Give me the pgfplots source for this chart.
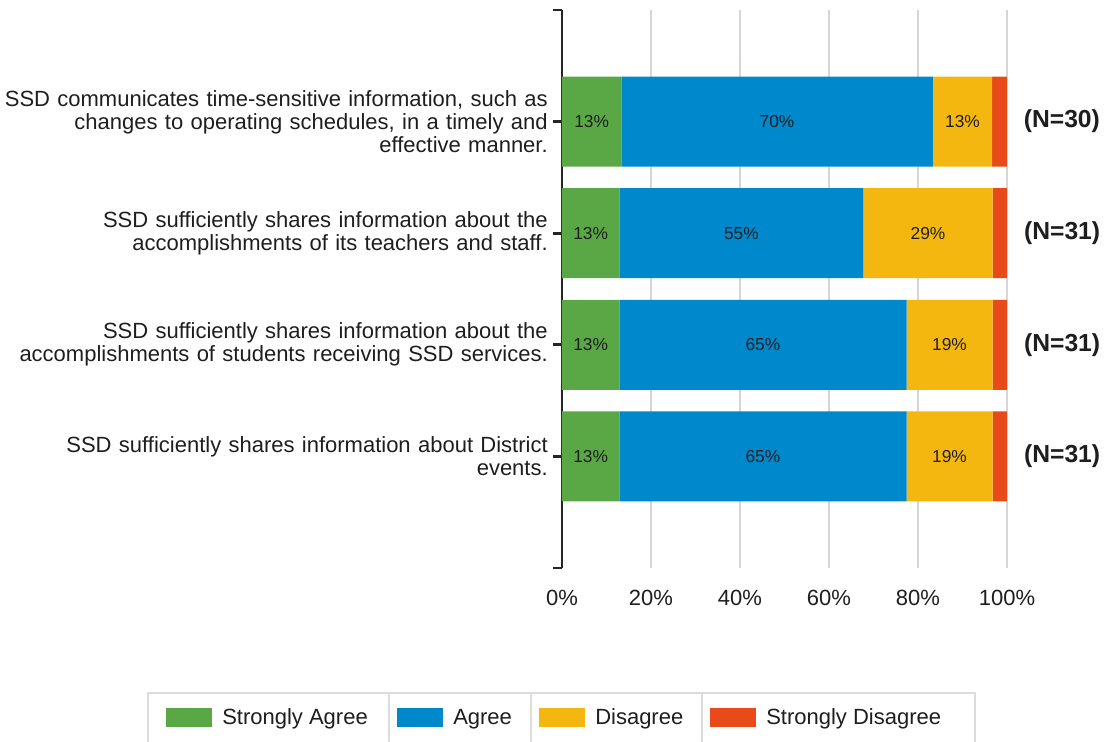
\documentclass[border=0pt]{standalone}
\usepackage{pgfplots}
\pgfplotsset{compat=1.18}
\usepackage{fontspec}
\setmainfont{Liberation Sans}
\definecolor{sa}{HTML}{5AA845}
\definecolor{ag}{HTML}{0088CC}
\definecolor{di}{HTML}{F4B70F}
\definecolor{sd}{HTML}{E84A1A}
\definecolor{gridc}{HTML}{D6D6D6}
\definecolor{legbd}{HTML}{DCDCDC}
\definecolor{txt}{HTML}{1E1E1E}
\pgfplotsset{
  seglab/.style={
    point meta=explicit symbolic,
    nodes near coords,
    every node near coord/.append style={anchor=center, inner sep=0pt,
      font=\fontsize{13}{13}\selectfont, text=txt},
  },
  nlab/.style={
    point meta=explicit symbolic,
    nodes near coords,
    every node near coord/.append style={anchor=west, inner sep=0pt, xshift=18pt,
      font=\fontsize{18.5}{18.5}\selectfont\bfseries, text=txt},
  },
}
\begin{document}
\begin{tikzpicture}
\path[use as bounding box] (-421.5pt,-130.5pt) rectangle (408.75pt,426pt);
\begin{axis}[
  scale only axis, width=333.75pt, height=418.5pt,
  xbar stacked, bar width=67.5pt, clip=false,
  xmin=0, xmax=100, ymin=0, ymax=5, y dir=reverse,
  axis lines*=left, axis line style={-},
  x axis line style={draw=none},
  y axis line style={line width=2pt, color=black!85},
  xtick={0,20,40,60,80,100},
  xticklabels={0\%,20\%,40\%,60\%,80\%,100\%},
  xtick style={draw=none},
  ytick={0,1,2,3,4,5},
  yticklabels={{},
    {SSD communicates time-sensitive information, such as\\changes to operating schedules, in a timely and\\effective manner.},
    {SSD sufficiently shares information about the\\accomplishments of its teachers and staff.},
    {SSD sufficiently shares information about the\\accomplishments of students receiving SSD services.},
    {SSD sufficiently shares information about District\\events.},
    {}},
  ytick style={line width=2pt, color=black!85},
  tick align=outside, major tick length=6.75pt,
  xmajorgrids, grid style={color=gridc, line width=1.2pt},
  ticklabel style={font=\fontsize{16.5}{17.25}\selectfont, text=txt},
  yticklabel style={text width=430pt, align=right, inner sep=0pt, xshift=-3.75pt},
  xticklabel style={inner sep=0pt, anchor=north, yshift=-9.85pt},
  legend columns=4,
  legend style={at={(-0.88989,-0.26792)}, anchor=west, draw=none, fill=none,
    inner sep=0pt, font=\fontsize{16.5}{17.25}\selectfont,
    nodes={inner sep=0pt, text=txt}, cells={anchor=west},
    /tikz/every odd column/.append style={column sep=7.5pt},
    /tikz/every even column/.append style={column sep=6pt}},
  legend image code/.code={\fill[#1] (0pt,-7.125pt) rectangle (34.5pt,7.125pt);},
]
\addplot[fill=sa, draw=none, seglab] coordinates {(13.33,1) [13\%] (12.90,2) [13\%] (12.90,3) [13\%] (12.90,4) [13\%]};
\addlegendentry{\makebox[125.25pt][l]{Strongly Agree}}
\addplot[fill=ag, draw=none, seglab] coordinates {(70.00,1) [70\%] (54.84,2) [55\%] (64.52,3) [65\%] (64.52,4) [65\%]};
\addlegendentry{\makebox[58.5pt][l]{Agree}}
\addplot[fill=di, draw=none, seglab] coordinates {(13.33,1) [13\%] (29.03,2) [29\%] (19.35,3) [19\%] (19.35,4) [19\%]};
\addlegendentry{\makebox[80.25pt][l]{Disagree}}
\addplot[fill=sd, draw=none, nlab] coordinates {(3.34,1) [(N=30)] (3.23,2) [(N=31)] (3.23,3) [(N=31)] (3.23,4) [(N=31)]};
\addlegendentry{Strongly Disagree}
\end{axis}
\draw[color=legbd, line width=1pt] (-310.5pt,-140pt) -- (-310.5pt,-93.75pt) -- (309.75pt,-93.75pt) -- (309.75pt,-140pt);
\draw[color=legbd, line width=1pt] (-129.75pt,-93.75pt) -- (-129.75pt,-140pt);
\draw[color=legbd, line width=1pt] (-23.25pt,-93.75pt) -- (-23.25pt,-140pt);
\draw[color=legbd, line width=1pt] (105pt,-93.75pt) -- (105pt,-140pt);
\end{tikzpicture}
\end{document}
